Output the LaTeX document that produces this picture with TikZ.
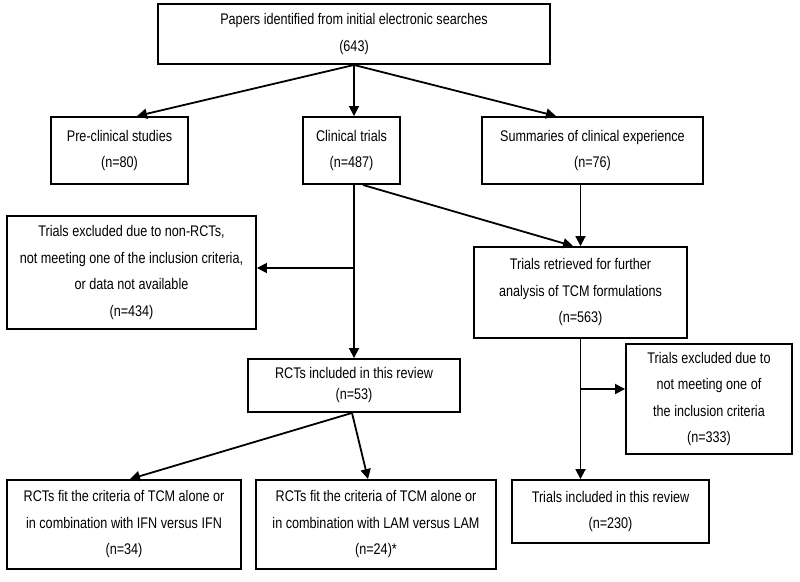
\documentclass[tikz,border=0pt]{standalone}
\usepackage{fontspec}
\setmainfont[FakeStretch=0.82]{Liberation Sans}
\usetikzlibrary{arrows.meta}
\begin{document}
\begin{tikzpicture}[x=1pt,y=-1pt,
  box/.style={draw,line width=1.9pt,inner sep=0pt,align=center,
    font=\fontsize{15.4}{26.5}\selectfont},
  arr/.style={line width=1.8pt,-{Triangle[length=10pt,width=10pt]}},
  ln/.style={line width=1.8pt}]
\useasboundingbox (0,0) rectangle (800,581);
\fill[white] (0,0) rectangle (800,581);
\node[box,minimum width=392pt,minimum height=60pt] (top) at (354,34) {Papers identified from initial electronic searches\\(643)};
\node[box,minimum width=137pt,minimum height=67pt] (pre) at (119.5,150.5) {Pre-clinical studies\\(n=80)};
\node[box,minimum width=97pt,minimum height=67pt] (clin) at (351.5,150.5) {Clinical trials\\(n=487)};
\node[box,minimum width=221pt,minimum height=67pt] (summ) at (592.5,150.5) {Summaries of clinical experience\\(n=76)};
\node[box,minimum width=249pt,minimum height=113pt] (excla) at (131.5,272.5) {Trials excluded due to non-RCTs,\\not meeting one of the inclusion criteria,\\or data not available\\(n=434)};
\node[box,minimum width=213pt,minimum height=91pt] (retr) at (580.5,292.5) {Trials retrieved for further\\analysis of TCM formulations\\(n=563)};
\node[box,minimum width=212pt,minimum height=53pt,font=\fontsize{15.4}{21}\selectfont] (rct) at (354,385.5) {RCTs included in this review\\(n=53)};
\node[box,minimum width=166pt,minimum height=110pt] (exclb) at (709,399) {Trials excluded due to\\not meeting one of\\the inclusion criteria\\(n=333)};
\node[box,minimum width=234pt,minimum height=89pt] (ifn) at (124,524.5) {RCTs fit the criteria of TCM alone or\\in combination with IFN versus IFN\\(n=34)};
\node[box,minimum width=240pt,minimum height=89pt] (lam) at (376,524.5) {RCTs fit the criteria of TCM alone or\\in combination with LAM versus LAM\\(n=24)*};
\node[box,minimum width=197pt,minimum height=63pt] (incl) at (610.5,511.5) {Trials included in this review\\(n=230)};
% top to second row
\draw[arr] (top.south) -- ([xshift=17.5pt]pre.north);
\draw[arr] (top.south) -- (top.south |- clin.north);
\draw[arr] (top.south) -- ([xshift=-36.5pt]summ.north);
% clinical trials down
\draw[arr] (top.south |- clin.south) -- (top.south |- rct.north);
\coordinate (ba) at (354,268);
\draw[arr] (ba) -- (ba -| excla.east);
\draw[arr] ([xshift=11.5pt]clin.south) -- ([xshift=-7.5pt]retr.north);
\draw[arr] (retr.north |- summ.south) -- (retr.north);
% rct to bottom
\draw[arr] ([xshift=-2pt]rct.south) -- ([xshift=6pt]ifn.north);
\draw[arr] ([xshift=-2pt]rct.south) -- ([xshift=-8pt]lam.north);
% retrieved down
\draw[arr] (retr.south) -- (retr.south |- incl.north);
\coordinate (bb) at (580.5,389);
\draw[arr] (bb) -- (bb -| exclb.west);
\end{tikzpicture}
\end{document}
